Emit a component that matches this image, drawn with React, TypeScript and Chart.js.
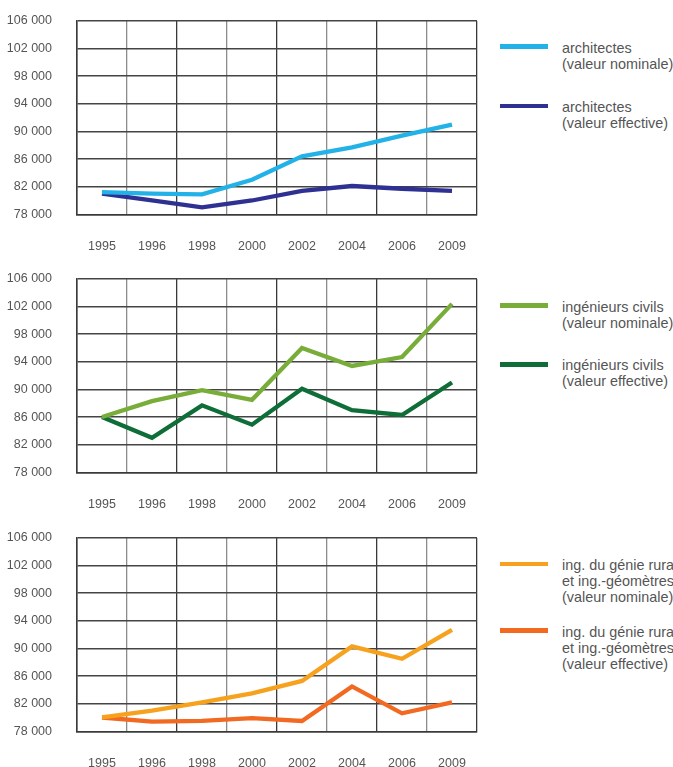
import React, { useEffect, useRef } from "react";
import { Chart, registerables } from "chart.js";

Chart.register(...registerables);

// ---- data ----
const years = ["1995", "1996", "1998", "2000", "2002", "2004", "2006", "2009"];
const yTicks = [78000, 82000, 86000, 90000, 94000, 98000, 102000, 106000];

const architectesNominal = [81200, 81000, 80900, 83000, 86400, 87700, 89400, 91000];
const architectesEffective = [81000, 80000, 79000, 80000, 81400, 82100, 81700, 81400];

const civilsNominal = [86000, 88300, 89900, 88500, 96000, 93400, 94700, 102400];
const civilsEffective = [86000, 83000, 87700, 84900, 90100, 87000, 86300, 91000];

const ruralNominal = [80000, 81000, 82200, 83500, 85300, 90300, 88500, 92700];
const ruralEffective = [80000, 79400, 79500, 79900, 79500, 84500, 80600, 82200];

const architectesLabels = [
  ["architectes", "(valeur nominale)"],
  ["architectes", "(valeur effective)"],
];
const civilsLabels = [
  ["ingénieurs civils", "(valeur nominale)"],
  ["ingénieurs civils", "(valeur effective)"],
];
const ruralLabels = [
  ["ing. du génie rural", "et ing.-géomètres", "(valeur nominale)"],
  ["ing. du génie rural", "et ing.-géomètres", "(valeur effective)"],
];

const architectesColors = ["#22b2e8", "#2e3192"];
const civilsColors = ["#79ad3a", "#0f6e38"];
const ruralColors = ["#f7a21e", "#f26a22"];

const FONT = '"Liberation Sans", Arial, Helvetica, sans-serif';
const TEXT = "#555555";

function fmt(v: number): string {
  return String(v).replace(/\B(?=(\d{3})+(?!\d))/g, " ");
}

type PanelProps = {
  top: number;
  nominal: number[];
  effective: number[];
  colors: string[];
  labels: string[][];
  legendY: number[];
};

function Panel({ top, nominal, effective, colors, labels, legendY }: PanelProps) {
  const ref = useRef<HTMLCanvasElement>(null);

  useEffect(() => {
    const chart = new Chart(ref.current as HTMLCanvasElement, {
      type: "line",
      data: {
        labels: years,
        datasets: [
          {
            label: labels[0].join(" "),
            data: nominal,
            borderColor: colors[0],
            backgroundColor: colors[0],
            borderWidth: 4.3,
            pointRadius: 0,
            fill: false,
            tension: 0,
          },
          {
            label: labels[1].join(" "),
            data: effective,
            borderColor: colors[1],
            backgroundColor: colors[1],
            borderWidth: 4.3,
            pointRadius: 0,
            fill: false,
            tension: 0,
          },
        ],
      },
      options: {
        responsive: false,
        animation: false,
        layout: { padding: { top: 21, right: 13, left: 0, bottom: 0 } },
        plugins: {
          legend: { display: false },
          tooltip: { enabled: false },
        },
        scales: {
          x: {
            type: "category",
            offset: true,
            grid: {
              offset: true,
              drawTicks: false,
              lineWidth: 1.3,
              color: (ctx: any) =>
                ctx.index === undefined || ctx.index % 2 === 0 ? "#3a3a3a" : "#8c8c8c",
            },
            border: { display: true, color: "#3a3a3a", width: 1.5 },
            ticks: {
              padding: 25,
              color: TEXT,
              font: { family: FONT, size: 12.5 },
              maxRotation: 0,
              autoSkip: false,
            },
            afterFit: (s: any) => {
              s.height = 43.7;
              s.paddingLeft = 0;
              s.paddingRight = 0;
            },
          },
          y: {
            type: "linear",
            min: 78000,
            max: 106000,
            afterBuildTicks: (s: any) => {
              s.ticks = yTicks.map((v) => ({ value: v }));
            },
            grid: { drawTicks: false, color: "#444444", lineWidth: 1.5 },
            border: { display: true, color: "#3a3a3a", width: 1.5 },
            ticks: {
              padding: 25,
              color: TEXT,
              font: { family: FONT, size: 12.5 },
              callback: (v: any) => fmt(Number(v)),
            },
            afterFit: (s: any) => {
              s.width = 77;
              s.paddingTop = 0;
              s.paddingBottom = 0;
            },
          },
        },
      },
    });
    return () => chart.destroy();
  }, []);

  return (
    <>
      <canvas
        ref={ref}
        width={490}
        height={258}
        style={{ position: "absolute", left: 0, top, width: 490, height: 258, display: "block" }}
      />
      {labels.map((lines, i) => (
        <React.Fragment key={i}>
          <div
            style={{
              position: "absolute",
              left: 500,
              top: legendY[i] - 2.25,
              width: 48,
              height: 4.5,
              background: colors[i],
            }}
          />
          <div
            style={{
              position: "absolute",
              left: 562,
              top: legendY[i] + 1 - 8,
              fontFamily: FONT,
              fontSize: 14.4,
              lineHeight: "16px",
              color: TEXT,
              whiteSpace: "nowrap",
            }}
          >
            {lines.map((l, j) => (
              <div key={j}>{l}</div>
            ))}
          </div>
        </React.Fragment>
      ))}
    </>
  );
}

export default function App() {
  return (
    <div
      style={{
        position: "absolute",
        left: 0,
        top: 0,
        width: 673,
        height: 767,
        overflow: "hidden",
        background: "#ffffff",
      }}
    >
      <Panel
        top={0}
        nominal={architectesNominal}
        effective={architectesEffective}
        colors={architectesColors}
        labels={architectesLabels}
        legendY={[46.7, 106]}
      />
      <Panel
        top={258}
        nominal={civilsNominal}
        effective={civilsEffective}
        colors={civilsColors}
        labels={civilsLabels}
        legendY={[305.7, 364.3]}
      />
      <Panel
        top={517}
        nominal={ruralNominal}
        effective={ruralEffective}
        colors={ruralColors}
        labels={ruralLabels}
        legendY={[564, 630.7]}
      />
    </div>
  );
}
